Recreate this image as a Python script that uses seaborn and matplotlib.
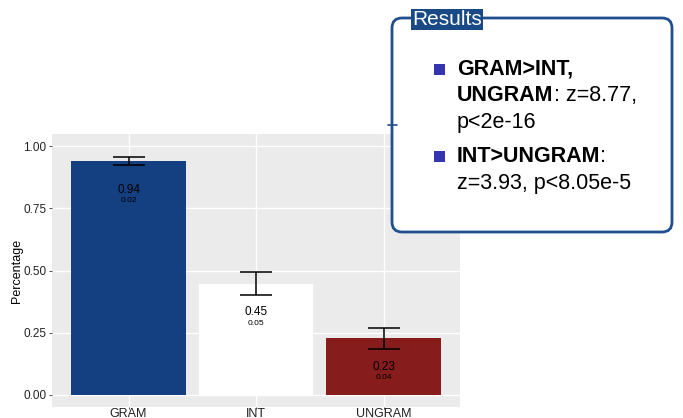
import numpy as np
import pandas as pd
import matplotlib
matplotlib.use("Agg")
import matplotlib.pyplot as plt
import seaborn as sns
from matplotlib.patches import FancyBboxPatch, Rectangle

# Condition means and standard errors
conditions = ["GRAM", "INT", "UNGRAM"]
means = [0.94, 0.446, 0.227]
ses = [0.016, 0.046, 0.043]
bar_colors = ["#143f80", "#ffffff", "#871c1c"]

# Summary of the statistical tests: (bold part, plain part) per line
results_lines = [
    [("GRAM>INT,", "")],
    [("UNGRAM", ": z=8.77,")],
    [("", "p<2e-16")],
    [("INT>UNGRAM", ":")],
    [("", "z=3.93, p<8.05e-5")],
]
bullet_rows = [0, 3]

sns.set_theme(style="darkgrid")
plt.rcParams["font.family"] = ["Liberation Sans", "DejaVu Sans"]

W, H = 683, 418
fig = plt.figure(figsize=(W / 100, H / 100), dpi=100)
fig.patch.set_facecolor("white")

ax = fig.add_axes([52 / W, 1 - 407 / H, (460 - 52) / W, (407 - 134) / H])
df = pd.DataFrame({"cond": conditions, "pct": means, "se": ses})
sns.barplot(data=df, x="cond", y="pct", hue="cond", palette=bar_colors,
            width=0.9, errorbar=None, legend=False, ax=ax,
            saturation=1, linewidth=0)
ax.errorbar(np.arange(len(conditions)), df["pct"], yerr=df["se"],
            fmt="none", ecolor="black", elinewidth=1.1, capsize=11.5,
            capthick=1.1, zorder=5)

for i, (m, s) in enumerate(zip(means, ses)):
    ax.text(i, m - 0.115, f"{m:.2f}", ha="center", va="center",
            fontsize=8.5, color="black", zorder=6)
    ax.text(i, m - 0.158, f"{s:.2f}", ha="center", va="center",
            fontsize=6, color="black", zorder=6)

ax.set_facecolor("#ebebeb")
ax.set_xlim(-0.6, 2.6)
ax.set_ylim(-0.05, 1.05)
ax.set_yticks([0, 0.25, 0.5, 0.75, 1.0])
ax.set_yticklabels(["0.00", "0.25", "0.50", "0.75", "1.00"])
ax.grid(True, color="white", linewidth=1.0)
ax.set_axisbelow(True)
for sp in ax.spines.values():
    sp.set_visible(False)
ax.tick_params(axis="both", width=0.6, color="#333333", labelcolor="#222222")
ax.tick_params(axis="y", labelsize=8.5, left=True, length=2.5, pad=1.5)
ax.tick_params(axis="x", labelsize=9, bottom=True, length=1.5, pad=-0.5)
ax.set_xlabel("")
ax.set_ylabel("Percentage", fontsize=9, color="black", labelpad=0.5)

# Overlay in pixel coordinates for the results panel
ov = fig.add_axes([0, 0, 1, 1])
ov.set_xlim(0, W)
ov.set_ylim(H, 0)
ov.axis("off")
ov.patch.set_alpha(0)

frame_col = "#1f4f8c"
box = FancyBboxPatch((392, 18), 280, 214,
                     boxstyle="round,pad=0,rounding_size=10",
                     facecolor="white", edgecolor=frame_col, linewidth=2.0,
                     zorder=2)
ov.add_patch(box)
ov.plot([388, 397], [125, 125], color=frame_col, lw=1.2, zorder=3)

ov.text(412, 25, "Results", ha="left", va="baseline", fontsize=15,
        color="white", zorder=4,
        bbox=dict(boxstyle="square,pad=0.05", facecolor="#1a4a85",
                  edgecolor="none"))

renderer = fig.canvas.get_renderer()
x0 = 457
baselines = [75, 101, 128, 162, 189]
fs = 15.5
for row, (parts, yb) in enumerate(zip(results_lines, baselines)):
    x = x0
    for bold, plain in parts:
        if bold:
            t = ov.text(x, yb, bold, ha="left", va="baseline", fontsize=fs,
                        fontweight="bold", color="black", zorder=4)
            bb = t.get_window_extent(renderer=renderer)
            x += bb.width
        if plain:
            ov.text(x, yb, plain, ha="left", va="baseline", fontsize=fs,
                    color="black", zorder=4)
    if row in bullet_rows:
        ov.add_patch(Rectangle((434, yb - 11), 11, 11,
                               facecolor="#3535b0", edgecolor="none",
                               zorder=4))

fig.savefig("out.png", dpi=100)
